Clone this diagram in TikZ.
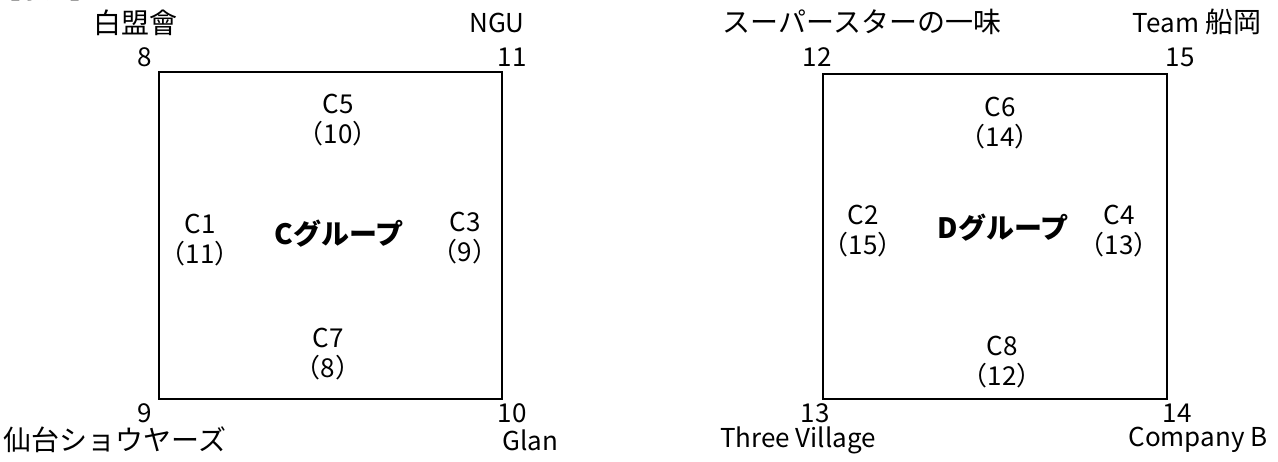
\documentclass[tikz,border=0pt]{standalone}
\usepackage{fontspec}
\setmainfont{Noto Sans CJK JP}
\begin{document}
\begin{tikzpicture}[x=1pt,y=-1pt,
  lt/.style={inner sep=0pt, align=center, font=\fontsize{26}{30}\selectfont},
  jp/.style={inner sep=0pt, align=center, font=\fontsize{28}{30}\selectfont},
  grp/.style={inner sep=0pt, font=\fontsize{28}{30}\selectfont\bfseries},
  boxst/.style={draw, line width=1.5pt, inner sep=0pt}]
\useasboundingbox (0,0) rectangle (1278,461);
% title (clipped at top)
\node[inner sep=0pt, anchor=base west, font=\fontsize{25}{30}\selectfont\bfseries] (title) at (-5,-2) {【予選】};
% group C
\node[boxst, minimum width=343pt, minimum height=327pt] (boxC) at (330.5,235.5) {};
\node[jp] (tC1) at (135,23) {白盟會};
\node[lt] (tC2) at (497,23) {NGU};
\node[jp] (tC3) at (115,440) {仙台ショウヤーズ};
\node[lt] (tC4) at (530,440) {Glan};
\node[lt] (nC8) at (145,57) {8};
\node[lt] (nC11) at (512,57) {11};
\node[lt] (nC9) at (145,413) {9};
\node[lt] (nC10) at (512,413) {10};
\node[lt] (c5) at (338,120) {C5\\（10）};
\node[lt] (c1) at (200,240) {C1\\（11）};
\node[lt] (c3) at (465,238) {C3\\（9）};
\node[lt] (c7) at (328,354) {C7\\（8）};
\node[grp] (gC) at (339,234) {Cグループ};
% group D
\node[boxst, minimum width=344pt, minimum height=325pt] (boxD) at (995,236.5) {};
\node[jp] (tD1) at (862,22) {スーパースターの一味};
\node[lt] (tD2) at (1197,22) {Team \fontsize{28}{30}\selectfont 船岡};
\node[lt] (tD3) at (798,440) {Three Village};
\node[lt] (tD4) at (1198,440) {Company B};
\node[lt] (nD12) at (817,57) {12};
\node[lt] (nD15) at (1180,57) {15};
\node[lt] (nD13) at (815,413) {13};
\node[lt] (nD14) at (1177,413) {14};
\node[lt] (c6) at (1000,123) {C6\\（14）};
\node[lt] (c2) at (863,231) {C2\\（15）};
\node[lt] (c4) at (1119,231) {C4\\（13）};
\node[lt] (c8) at (1002,362) {C8\\（12）};
\node[grp] (gD) at (1003,228) {Dグループ};
\end{tikzpicture}
\end{document}
